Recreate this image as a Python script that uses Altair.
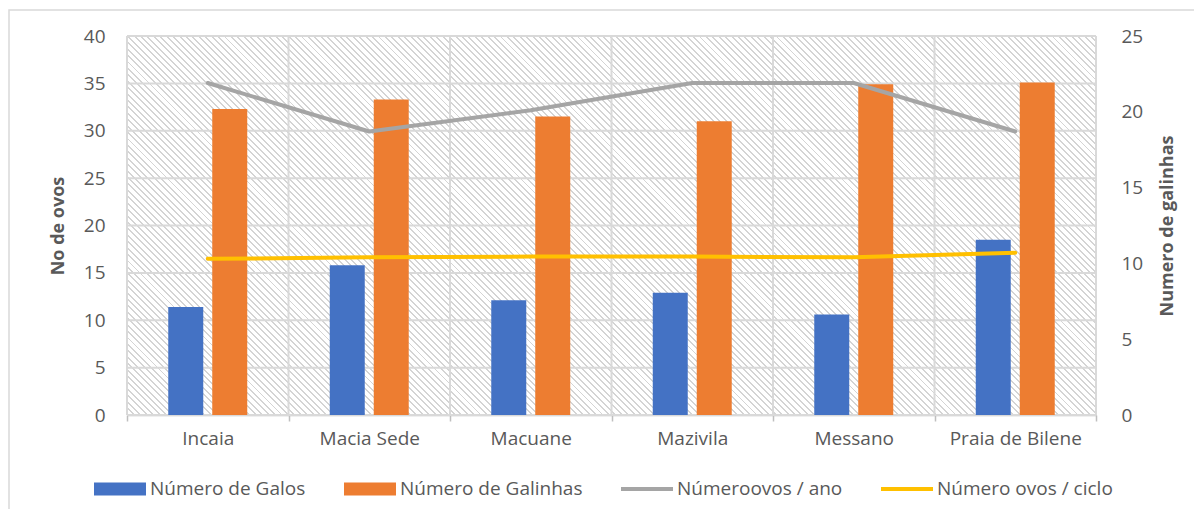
import altair as alt
import pandas as pd

categories = ["Incaia", "Macia Sede", "Macuane", "Mazivila", "Messano", "Praia de Bilene"]
galos = [11.4, 15.8, 12.1, 12.9, 10.6, 18.5]
galinhas = [32.3, 33.3, 31.5, 31.0, 34.9, 35.1]
ovos_ano = [21.9, 18.7, 20.1, 21.9, 21.9, 18.7]
ovos_ciclo = [10.3, 10.4, 10.45, 10.45, 10.4, 10.7]
left_ticks = [0, 5, 10, 15, 20, 25, 30, 35, 40]
right_ticks = [0, 5, 10, 15, 20, 25]

S_GALOS = "Número de Galos"
S_GALINHAS = "Número de Galinhas"
S_ANO = "Númeroovos / ano"
S_CICLO = "Número ovos / ciclo"
series_names = [S_GALOS, S_GALINHAS, S_ANO, S_CICLO]
series_colors = ["#4472C4", "#ED7D31", "#A5A5A5", "#FFC000"]

bars_df = pd.DataFrame(
    [{"cat": c, "series": S_GALOS, "v": v} for c, v in zip(categories, galos)]
    + [{"cat": c, "series": S_GALINHAS, "v": v} for c, v in zip(categories, galinhas)]
)
lines_df = pd.DataFrame(
    [{"cat": c, "series": S_ANO, "v": v} for c, v in zip(categories, ovos_ano)]
    + [{"cat": c, "series": S_CICLO, "v": v} for c, v in zip(categories, ovos_ciclo)]
)
legend_df = pd.DataFrame({"series": series_names})
hgrid_df = pd.DataFrame({"v": left_ticks})
vgrid_df = pd.DataFrame({"cat": categories})
vgrid_last_df = pd.DataFrame({"cat": categories[-1:]})

W, H = 969, 379
FONT = "Open Sans"
FS = 19
TXT = "#595959"
GRID = "#d9d9d9"

# diagonal hatch fill for the plot area
r = H / W
k = (1 + r) / (1 + r * r)
N = 210
stops = []
for i in range(N):
    a = i / N
    b = (i + 0.3) / N
    c = (i + 1) / N
    stops += [
        alt.GradientStop(offset=a, color="#d4d4d4"),
        alt.GradientStop(offset=b, color="#d4d4d4"),
        alt.GradientStop(offset=b, color="#ffffff"),
        alt.GradientStop(offset=c, color="#ffffff"),
    ]
hatch = alt.LinearGradient(gradient="linear", stops=stops, x1=0, y1=1, x2=k, y2=1 - k * r)

RECT_PATH = "M-1,-0.25H1V0.25H-1Z"
LINE_PATH = "M-1,-0.08H1V0.08H-1Z"

color_scale = alt.Scale(domain=series_names, range=series_colors)
shape_scale = alt.Scale(domain=series_names, range=[RECT_PATH, RECT_PATH, LINE_PATH, LINE_PATH])
legend = alt.Legend(
    orient="none",
    legendX=-33,
    legendY=427,
    direction="horizontal",
    title=None,
    labelFont=FONT,
    labelFontSize=FS,
    labelColor=TXT,
    labelOffset=4,
    labelLimit=400,
    columnPadding=38,
    symbolSize=2704,
    symbolStrokeWidth=0,
    symbolOpacity=1,
)

x_scale = alt.Scale(domain=categories, paddingInner=0, paddingOuter=0)
x_axis = alt.Axis(
    title=None,
    labelFont=FONT,
    labelFontSize=FS,
    labelColor=TXT,
    labelPadding=8,
    labelAngle=0,
    domainColor="#bfbfbf",
    domainWidth=1.5,
    tickBand="extent",
    tickColor="#bfbfbf",
    tickWidth=1.5,
    tickSize=6,
    grid=False,
)
x_enc = alt.X("cat:N", scale=x_scale, axis=x_axis)

yl_scale = alt.Scale(domain=[0, 40], nice=False)
yl_axis = alt.Axis(
    values=left_ticks,
    grid=False,
    domain=False,
    ticks=False,
    tickSize=0,
    labelPadding=22,
    labelFont=FONT,
    labelFontSize=FS,
    labelColor=TXT,
    title="No de ovos",
    titleFont=FONT,
    titleFontSize=18,
    titleFontWeight="bold",
    titleColor=TXT,
    titleAngle=270,
    titleX=-69,
    titleY=H / 2,
    titleAlign="center",
    titleBaseline="middle",
)
yr_scale = alt.Scale(domain=[0, 25], nice=False)
yr_axis = alt.Axis(
    orient="right",
    values=right_ticks,
    grid=False,
    domain=False,
    ticks=False,
    tickSize=0,
    labelPadding=25,
    labelFont=FONT,
    labelFontSize=FS,
    labelColor=TXT,
    title="Numero de galinhas",
    titleFont=FONT,
    titleFontSize=18,
    titleFontWeight="bold",
    titleColor=TXT,
    titleAngle=270,
    titleX=71,
    titleY=H / 2,
    titleAlign="center",
    titleBaseline="middle",
)

frame = alt.Chart(hgrid_df).mark_rect(fill=None, stroke=GRID, strokeWidth=1.5, clip=False).encode(
    x=alt.value(-118), x2=alt.value(1202), y=alt.value(-26), y2=alt.value(600)
).transform_filter("datum.v == 0")

bg = alt.Chart(hgrid_df).mark_rect(fill=hatch).encode(
    x=alt.value(0), x2=alt.value("width"), y=alt.value(0), y2=alt.value("height")
).transform_filter("datum.v == 0")

hgrid = alt.Chart(hgrid_df).mark_rule(color=GRID, strokeWidth=2).encode(
    y=alt.Y("v:Q", scale=yl_scale, axis=yl_axis)
)
vgrid = alt.Chart(vgrid_df).mark_rule(color=GRID, strokeWidth=2).encode(
    x=alt.X("cat:N", scale=x_scale, axis=x_axis, bandPosition=0)
)
vgrid_last = alt.Chart(vgrid_last_df).mark_rule(color=GRID, strokeWidth=2).encode(
    x=alt.X("cat:N", scale=x_scale, axis=x_axis, bandPosition=1)
)

bars = alt.Chart(bars_df).mark_bar().encode(
    x=x_enc,
    xOffset=alt.XOffset(
        "series:N",
        scale=alt.Scale(domain=[S_GALOS, S_GALINHAS], paddingInner=0.2045, paddingOuter=0.938),
    ),
    y=alt.Y("v:Q", scale=yl_scale, axis=yl_axis),
    color=alt.Color("series:N", scale=color_scale, legend=legend),
)

# invisible points that only carry the legend symbols
legend_pts = alt.Chart(legend_df).mark_point(filled=True, clip=True).encode(
    x=alt.value(-500),
    y=alt.value(-500),
    color=alt.Color("series:N", scale=color_scale, legend=legend),
    shape=alt.Shape("series:N", scale=shape_scale, legend=legend),
)

lines = alt.Chart(lines_df).mark_line(strokeWidth=4, strokeCap="round", strokeJoin="round").encode(
    x=x_enc,
    y=alt.Y("v:Q", scale=yr_scale, axis=yr_axis),
    color=alt.Color("series:N", scale=color_scale, legend=legend),
)

left = alt.layer(frame, bg, hgrid, vgrid, vgrid_last, bars, legend_pts)
chart = (
    alt.layer(left, lines)
    .resolve_scale(y="independent")
    .properties(
        width=W,
        height=H,
        autosize=alt.AutoSizeParams(type="none"),
        padding={"left": 119, "top": 28, "right": 98, "bottom": 94},
        background="white",
    )
    .configure_view(stroke=None)
)

chart.save("out.html", embed_options={"renderer": "svg", "actions": False})
